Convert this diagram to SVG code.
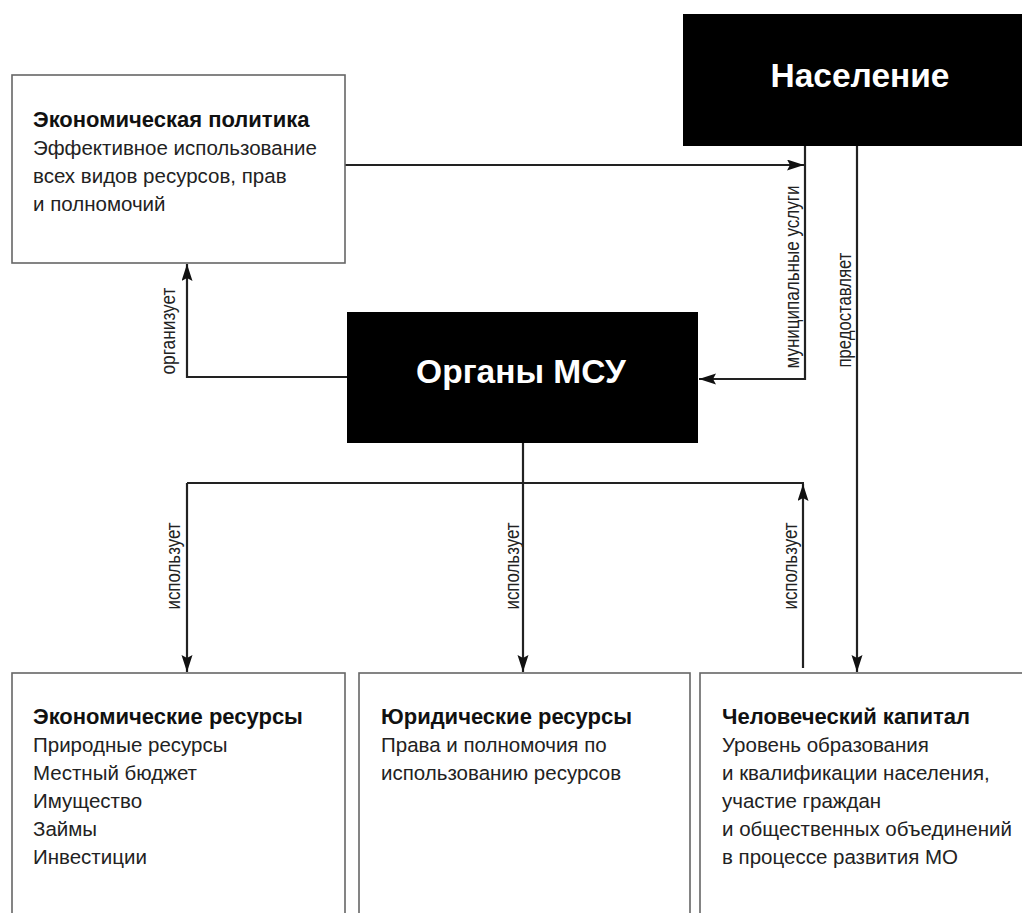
<svg xmlns="http://www.w3.org/2000/svg" width="1022" height="913" viewBox="0 0 1022 913">
<style>
.box{fill:#fff;stroke:#666;stroke-width:1.6}
.dark{fill:#000}
.t{font-family:"Liberation Sans",Arial,sans-serif;font-size:20.5px;fill:#222}
.tb{font-family:"Liberation Sans",Arial,sans-serif;font-size:22px;font-weight:bold;fill:#111}
.big{font-family:"Liberation Sans",Arial,sans-serif;font-weight:bold;fill:#fff;text-anchor:middle}
.lab{font-family:"Liberation Sans",Arial,sans-serif;font-size:19.5px;fill:#222;text-anchor:middle}
.ln{fill:none;stroke:#222;stroke-width:2.2}
</style>
<defs>
<marker id="arr" markerUnits="userSpaceOnUse" markerWidth="18" markerHeight="12" refX="17" refY="5.5" orient="auto">
<path d="M0,0 L17,5.5 L0,11 L3,5.5 z" fill="#111"/>
</marker>
</defs>
<rect width="1022" height="913" fill="#fff"/>

<g id="connectors">
<path class="ln" d="M345,165 H804" marker-end="url(#arr)"/>
<path class="ln" d="M805,146 V379 H699" marker-end="url(#arr)"/>
<path class="ln" d="M347,377 H187 V264" marker-end="url(#arr)"/>
<path class="ln" d="M523,443 V672" marker-end="url(#arr)"/>
<path class="ln" d="M187,483 H804"/>
<path class="ln" d="M187,483 V672" marker-end="url(#arr)"/>
<path class="ln" d="M803,668 V484" marker-end="url(#arr)"/>
<path class="ln" d="M857,146 V672" marker-end="url(#arr)"/>
<text class="lab" transform="translate(799,277) rotate(-90)" textLength="183" lengthAdjust="spacingAndGlyphs">муниципальные услуги</text>
<text class="lab" transform="translate(851,310) rotate(-90)" textLength="115" lengthAdjust="spacingAndGlyphs">предоставляет</text>
<text class="lab" transform="translate(175,331) rotate(-90)" textLength="87" lengthAdjust="spacingAndGlyphs">организует</text>
<text class="lab" transform="translate(180,566) rotate(-90)" textLength="87" lengthAdjust="spacingAndGlyphs">использует</text>
<text class="lab" transform="translate(519,566) rotate(-90)" textLength="87" lengthAdjust="spacingAndGlyphs">использует</text>
<text class="lab" transform="translate(797,566) rotate(-90)" textLength="87" lengthAdjust="spacingAndGlyphs">использует</text>
</g>

<g id="naselenie">
<rect class="dark" x="683" y="14" width="345" height="132"/>
<text class="big" x="860" y="87" font-size="33.5">Население</text>
</g>

<g id="organy-msu">
<rect class="dark" x="347" y="312" width="351" height="131"/>
<text class="big" x="521" y="383" font-size="33.5">Органы МСУ</text>
</g>

<g id="econ-policy">
<rect class="box" x="12" y="75" width="333" height="188"/>
<text class="tb" x="33" y="127">Экономическая политика</text>
<text class="t" x="33" y="155">Эффективное использование</text>
<text class="t" x="33" y="183">всех видов ресурсов, прав</text>
<text class="t" x="33" y="211">и полномочий</text>
</g>

<g id="econ-resources">
<rect class="box" x="12" y="673" width="333" height="260"/>
<text class="tb" x="33" y="724">Экономические ресурсы</text>
<text class="t" x="33" y="752">Природные ресурсы</text>
<text class="t" x="33" y="780">Местный бюджет</text>
<text class="t" x="33" y="808">Имущество</text>
<text class="t" x="33" y="836">Займы</text>
<text class="t" x="33" y="864">Инвестиции</text>
</g>

<g id="legal-resources">
<rect class="box" x="359" y="673" width="331" height="260"/>
<text class="tb" x="381" y="724">Юридические ресурсы</text>
<text class="t" x="381" y="752">Права и полномочия по</text>
<text class="t" x="381" y="780">использованию ресурсов</text>
</g>

<g id="human-capital">
<rect class="box" x="700" y="673" width="340" height="260"/>
<text class="tb" x="722" y="724">Человеческий капитал</text>
<text class="t" x="722" y="752">Уровень образования</text>
<text class="t" x="722" y="780">и квалификации населения,</text>
<text class="t" x="722" y="808">участие граждан</text>
<text class="t" x="722" y="836">и общественных объединений</text>
<text class="t" x="722" y="864">в процессе развития МО</text>
</g>
</svg>
